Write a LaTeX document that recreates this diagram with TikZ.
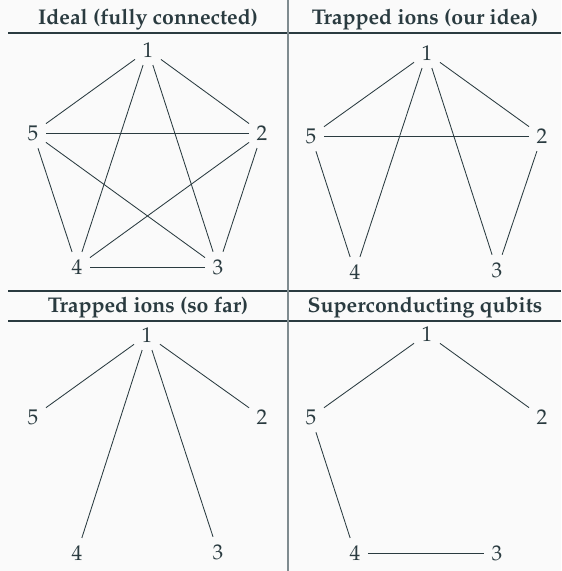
\documentclass[tikz,border=0pt]{standalone}
\usepackage[T1]{fontenc}
\usepackage{mathpazo}
\usetikzlibrary{positioning}

\definecolor{ink}{HTML}{2A3B40}
\definecolor{rulegray}{HTML}{7F8B8F}
\definecolor{paper}{HTML}{FAFAFA}

\begin{document}
\begin{tikzpicture}[x=0.47pt,y=-0.47pt,
    qubit/.style={text=ink,inner sep=3.4pt},
    head/.style={text=ink,font=\bfseries,anchor=base},
    link/.style={draw=ink,line width=0.4pt},
    rule/.style={draw=ink,line width=0.5pt}]

    \fill[paper] (0,0) rectangle (561,571);
    \useasboundingbox (0,0) rectangle (561,571);

    % table rules
    \draw[rule] (8,33) -- (561,33);
    \draw[rule] (8,291) -- (561,291);
    \draw[rule] (8,321) -- (561,321);
    \draw[draw=rulegray,line width=0.6pt] (288,0) -- (288,571);

    % headings
    \node[head] (hIdeal) at (148,24) {Ideal (fully connected)};
    \node[head] (hIdea) at (425,24) {Trapped ions (our idea)};
    \node[head] (hFar) at (148,312) {Trapped ions (so far)};
    \node[head] (hSup) at (425,312) {Superconducting qubits};

    % ideal
    \node[qubit] (a1) at (148,50) {1};
    \node[qubit] (a2) at (262,133) {2};
    \node[qubit] (a3) at (218,267) {3};
    \node[qubit] (a4) at (77,267) {4};
    \node[qubit] (a5) at (33,133) {5};

    \path[link]
    (a1) edge (a2) (a1) edge (a3) (a1) edge (a4) (a1) edge (a5)
    (a2) edge (a3) (a2) edge (a4) (a2) edge (a5)
    (a3) edge (a4) (a3) edge (a5)
    (a4) edge (a5);

    % trapped ions, our idea
    \node[qubit] (b1) at (427,53) {1};
    \node[qubit] (b2) at (542,136) {2};
    \node[qubit] (b3) at (497,270) {3};
    \node[qubit] (b4) at (355,272) {4};
    \node[qubit] (b5) at (311,136) {5};

    \path[link]
    (b1) edge (b2) (b1) edge (b3) (b1) edge (b4) (b1) edge (b5)
    (b2) edge (b5) (b2) edge (b3)
    (b5) edge (b4);

    % trapped ions, so far
    \node[qubit] (c1) at (147,335) {1};
    \node[qubit] (c2) at (262,417) {2};
    \node[qubit] (c3) at (218,552) {3};
    \node[qubit] (c4) at (77,553) {4};
    \node[qubit] (c5) at (33,417) {5};

    \path[link]
    (c1) edge (c2) (c1) edge (c3) (c1) edge (c4) (c1) edge (c5);

    % superconducting
    \node[qubit] (d1) at (427,334) {1};
    \node[qubit] (d2) at (542,417) {2};
    \node[qubit] (d3) at (497,553) {3};
    \node[qubit] (d4) at (355,553) {4};
    \node[qubit] (d5) at (311,417) {5};

    \path[link]
    (d1) edge (d2) (d1) edge (d5)
    (d5) edge (d4)
    (d4) edge (d3);
\end{tikzpicture}
\end{document}
